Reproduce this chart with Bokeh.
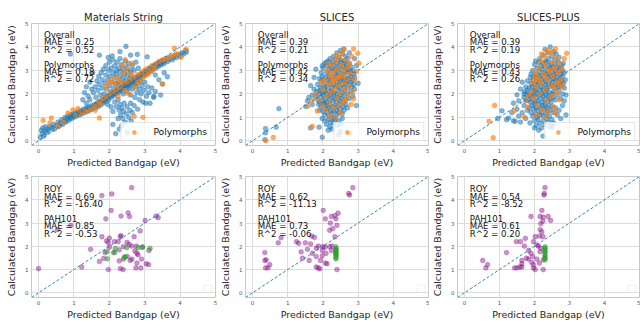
from bokeh.plotting import figure
from bokeh.layouts import column, row
from bokeh.models import (Range1d, FixedTicker, Label, Slope, Legend, LegendItem,
                          BoxAnnotation, Title)
from bokeh.embed import file_html
from bokeh.resources import INLINE

# ---------------------------------------------------------------- data
tick_vals = [0, 1, 2, 3, 4, 5]
titles = ["Materials String", "SLICES", "SLICES-PLUS"]

ms_all = [
    (0.05,0.15),(0.08,0.45),(0.1,0.3),(0.12,0.55),(0.15,0.2),(0.18,0.4),(0.2,0.6),(0.22,0.35),(0.25,0.5),(0.3,0.45),
    (0.33,0.62),(0.38,0.55),(0.42,0.7),(0.45,0.5),(0.5,0.65),(0.55,0.8),(0.58,0.62),(0.62,0.75),(0.65,0.9),(0.68,0.7),
    (0.72,0.85),(0.75,1.0),(0.78,0.8),(0.8,0.95),(0.83,1.05),(0.86,0.88),(0.88,1.0),(0.9,1.12),(0.93,0.95),(0.95,1.05),
    (0.98,1.15),(1.0,1.0),(1.02,1.1),(1.05,1.2),(1.07,1.05),(1.1,1.15),(1.12,1.25),(1.15,1.1),(1.18,1.2),(1.2,1.3),
    (1.22,1.15),(1.25,1.25),(1.28,1.35),(1.3,1.2),(1.33,1.3),(1.35,1.4),(1.38,1.25),(1.4,1.35),(1.42,1.45),(1.45,1.3),
    (1.48,1.42),(1.5,1.5),(1.52,1.35),(1.55,1.45),(1.58,1.55),(1.6,1.4),(1.63,1.5),(1.65,1.6),(1.68,1.45),(1.7,1.58),
    (1.72,1.68),(1.75,1.52),(1.78,1.65),(1.8,1.75),(1.82,1.6),(1.85,1.72),(1.88,1.82),(1.9,1.68),(1.93,1.8),(1.95,1.9),
    (1.98,1.75),(2.0,1.88),(2.03,1.98),(2.05,1.85),(2.08,1.95),(2.1,2.05),(2.13,1.92),(2.15,2.02),(2.18,2.12),(2.2,2.0),
    (2.23,2.1),(2.25,2.2),(2.28,2.08),(2.3,2.18),(2.33,2.28),(2.35,2.15),(2.38,2.25),(2.4,2.35),(2.43,2.22),(2.45,2.32),
    (2.48,2.42),(2.5,2.3),(2.53,2.4),(2.55,2.5),(2.58,2.38),(2.6,2.48),(2.63,2.58),(2.65,2.45),(2.68,2.55),(2.7,2.65),
    (2.73,2.52),(2.75,2.62),(2.78,2.72),(2.8,2.6),(2.83,2.7),(2.85,2.8),(2.88,2.68),(2.9,2.78),(2.93,2.88),(2.95,2.75),
    (2.98,2.85),(3.0,2.95),(3.03,2.82),(3.05,2.92),(3.08,3.02),(3.1,2.9),(3.13,3.0),(3.15,3.1),(3.18,2.98),(3.2,3.08),
    (3.23,3.18),(3.25,3.05),(3.28,3.15),(3.3,3.25),(3.33,3.12),(3.35,3.22),(3.38,3.32),(3.4,3.18),(3.43,3.28),(3.45,3.38),
    (3.48,3.25),(3.5,3.35),(3.55,3.3),(3.58,3.42),(3.6,3.5),(3.65,3.38),(3.7,3.48),(3.72,3.58),(3.78,3.45),(3.82,3.55),
    (3.85,3.65),(3.9,3.55),(3.95,3.68),(4.0,3.6),(4.05,3.75),(4.1,3.7),(4.15,3.85),(4.18,3.78),
    (1.55,2.05),(1.6,2.3),(1.62,1.85),(1.65,2.55),(1.68,2.15),(1.7,2.75),(1.72,2.4),(1.75,1.95),(1.77,2.9),(1.8,2.25),
    (1.8,2.6),(1.83,3.05),(1.85,2.0),(1.87,2.45),(1.9,2.8),(1.9,3.2),(1.92,2.2),(1.95,2.6),(1.97,3.0),(2.0,2.35),
    (2.0,3.35),(2.02,2.75),(2.05,2.1),(2.05,3.1),(2.08,2.5),(2.1,2.9),(2.1,3.45),(2.12,2.25),(2.15,2.7),(2.15,3.2),
    (2.18,2.45),(2.2,3.0),(2.2,2.85),(2.22,3.35),(2.25,2.55),(2.25,2.35),(2.27,3.1),(2.3,2.75),(2.3,3.5),(2.32,2.95),
    (2.35,2.45),(2.35,3.25),(2.38,2.65),(2.4,3.05),(2.4,2.0),(2.42,2.85),(2.45,3.4),(2.45,2.55),(2.48,3.15),(2.5,2.75),
    (2.5,2.1),(2.52,2.95),(2.55,3.3),(2.55,2.25),(2.58,2.65),(2.6,3.0),(2.6,1.95),(2.62,2.8),(2.65,3.2),(2.65,2.2),
    (2.68,2.4),(2.7,3.0),(2.72,1.85),(2.75,2.3),(2.75,3.35),(2.78,2.05),(2.8,2.45),(2.82,3.1),(2.85,2.2),(2.85,1.75),
    (2.88,2.55),(2.9,2.0),(2.92,2.35),(2.95,1.65),(2.98,2.15),(3.0,2.5),(3.05,1.9),(3.08,2.3),(3.12,2.05),(3.15,1.6),
    (3.2,2.25),(3.25,1.85),(3.3,2.1),
    (2.15,1.65),(2.2,1.45),(2.25,1.75),(2.28,1.3),(2.3,1.55),(2.32,1.1),(2.35,1.4),(2.38,0.95),(2.4,1.25),(2.42,1.6),
    (2.45,0.8),(2.48,1.15),(2.5,1.45),(2.55,1.0),(2.58,1.3),(2.6,1.6),(2.65,1.2),(2.7,1.5),(2.05,1.45),(2.1,1.25),
    (1.95,1.55),(2.25,0.95),(2.35,0.65),(2.28,0.5),(2.18,0.3),(2.5,0.35),(2.1,0.7),(2.62,0.85),(2.8,1.35),
    (1.3,2.05),(1.35,2.3),(1.4,1.9),(1.45,2.5),(1.5,2.2),(1.25,1.75),(1.35,1.6),(1.45,1.75),(1.53,2.9),
    (0.9,3.7),(1.72,3.65),(1.97,3.55),(2.08,3.62),(2.47,4.02),(2.3,3.8),(2.6,3.65),(2.79,3.68),(3.07,3.58),(3.5,2.42),
    (3.64,2.73),(3.26,1.89),(3.03,1.6),(3.4,2.6),(3.55,2.9),(3.3,2.8),(3.45,1.95),
]
ms_poly = [
    (0.13,0.87),(0.36,0.97),(0.32,0.76),(0.55,0.6),(0.7,0.78),(0.83,1.18),(0.97,1.32),(1.05,1.08),(1.11,1.37),
    (1.2,1.15),(1.3,1.25),(1.4,1.3),(1.5,1.42),(1.6,1.48),
    (1.72,0.97),(1.7,1.65),(1.8,1.78),(1.9,1.88),(2.0,2.0),
    (2.1,2.1),(2.2,2.2),(2.3,2.3),(2.4,2.45),(2.5,2.52),
    (2.6,2.62),(2.7,2.72),(2.8,2.82),(2.9,2.92),(3.0,3.02),
    (3.1,3.1),(3.2,3.2),(3.3,3.28),(3.4,3.38),(3.5,3.45),
    (3.6,3.5),(3.7,3.55),(3.8,3.62),(3.84,3.94),(3.9,3.7),(4.03,3.56),(4.17,3.9),(2.7,1.05),(2.95,1.0),(3.5,2.42),
    (3.29,3.1),(2.2,2.7),(2.3,2.55),(2.4,2.9),(2.5,3.1),(2.6,2.85),(2.35,3.2),(2.15,2.45),(2.05,2.6),(2.7,2.3),
    (2.8,2.5),(2.9,2.6),(3.0,2.75),(1.9,2.3),(1.75,1.55),(2.45,2.15),(2.55,2.0),(2.25,1.9),(3.1,2.85),(3.2,2.95),
    (2.65,3.3),(2.45,3.45),(2.0,2.5),(1.6,1.3),
]

sl_all = [
    (2.3,3.6),(2.4,3.75),(2.5,3.85),(2.55,3.7),(2.6,3.9),(2.45,3.55),(2.65,3.6),(2.35,3.45),(2.7,3.5),(2.2,3.5),
    (2.5,3.45),(2.75,3.75),(2.62,3.42),
    (2.0,3.1),(2.05,3.3),(2.1,2.9),(2.12,3.2),(2.15,3.4),(2.18,3.05),(2.2,2.85),(2.22,3.25),(2.25,3.1),(2.28,3.35),
    (2.3,2.95),(2.32,3.2),(2.35,3.05),(2.38,2.85),(2.4,3.3),(2.42,3.1),(2.45,2.9),(2.48,3.25),(2.5,3.05),(2.52,3.35),
    (2.55,2.85),(2.58,3.15),(2.6,3.3),(2.62,2.95),(2.65,3.1),(2.68,3.25),(2.7,2.9),(2.72,3.05),(2.75,3.3),(2.78,2.95),
    (2.8,3.15),(2.85,3.0),(1.95,2.9),(1.98,3.2),(2.88,2.85),(2.1,3.35),
    (1.85,2.4),(1.9,2.65),(1.92,2.25),(1.95,2.55),(1.98,2.75),(2.0,2.35),(2.02,2.6),(2.05,2.25),(2.08,2.7),(2.1,2.45),
    (2.12,2.3),(2.15,2.6),(2.18,2.75),(2.2,2.4),(2.22,2.55),(2.25,2.25),(2.28,2.7),(2.3,2.45),(2.32,2.6),(2.35,2.3),
    (2.38,2.75),(2.4,2.5),(2.42,2.35),(2.45,2.65),(2.48,2.25),(2.5,2.55),(2.52,2.75),(2.55,2.4),(2.58,2.6),(2.6,2.3),
    (2.62,2.7),(2.65,2.45),(2.68,2.55),(2.7,2.25),(2.72,2.65),(2.75,2.4),(2.78,2.75),(2.8,2.5),(2.82,2.3),(2.85,2.6),
    (2.88,2.4),(2.9,2.7),
    (1.8,1.9),(1.82,2.1),(1.85,1.75),(1.88,2.0),(1.9,1.65),(1.92,2.15),(1.95,1.85),(1.98,2.05),(2.0,1.7),(2.02,1.95),
    (2.05,2.15),(2.08,1.8),(2.1,2.0),(2.12,1.65),(2.15,1.9),(2.18,2.1),(2.2,1.75),(2.22,1.95),(2.25,2.1),(2.28,1.7),
    (2.3,1.9),(2.32,2.05),(2.35,1.8),(2.38,1.65),(2.4,2.0),(2.42,1.85),(2.45,2.15),(2.48,1.7),(2.5,1.95),(2.52,1.8),
    (2.55,2.05),(2.58,1.65),(2.6,1.9),(2.62,2.15),(2.65,1.75),(2.7,2.0),(2.75,1.8),(2.8,2.1),(2.85,1.9),(1.75,2.2),
    (1.7,1.95),(2.9,2.2),
    (1.95,1.45),(2.0,1.25),(2.02,1.55),(2.05,1.1),(2.08,1.35),(2.1,1.5),(2.12,1.2),(2.15,1.4),(2.18,1.05),(2.2,1.55),
    (2.22,1.3),(2.25,1.15),(2.28,1.45),(2.3,1.25),(2.32,1.0),(2.35,1.5),(2.38,1.3),(2.4,1.1),(2.42,1.45),(2.45,1.2),
    (2.48,1.55),(2.5,1.35),(2.55,1.15),(2.58,1.45),(2.6,1.3),(2.65,1.55),(2.7,1.4),(1.9,1.3),(1.88,1.55),(2.05,1.6),
    (2.05,0.85),(2.1,0.7),(2.15,0.9),(2.2,0.6),(2.22,0.8),(2.25,0.5),(2.3,0.75),(2.35,0.9),(2.4,0.65),(2.45,0.85),
    (2.5,0.7),(2.28,0.95),(2.15,0.45),(2.55,0.95),(1.98,0.95),
    (0.75,1.37),(0.37,0.52),(0.37,0.34),(0.67,0.58),(0.35,0.05),(1.98,0.15),(1.65,0.55),(1.89,0.58),(1.56,1.7),(1.51,1.46),
    (1.6,1.85),(1.65,2.35),(1.7,1.55),(2.45,0.25),(2.95,1.5),(3.0,2.45),(2.95,3.2),(1.75,2.7),(1.8,3.05),(2.9,3.5),
    (2.5,0.4),
]
sl_poly = [
    (0.38,0.0),(0.59,0.14),(1.7,0.61),(2.76,0.35),(2.87,1.79),(1.7,1.73),(1.58,1.48),(1.84,1.27),(2.99,3.73),(2.87,3.92),
    (2.59,3.92),(3.02,3.31),
    (2.0,2.2),(2.05,2.6),(2.1,1.9),(2.12,3.0),(2.15,2.4),(2.18,1.6),(2.2,2.8),(2.22,2.05),(2.25,3.2),(2.28,2.5),
    (2.3,1.4),(2.3,2.9),(2.32,2.2),(2.35,3.4),(2.38,2.65),(2.4,1.8),(2.4,3.05),(2.42,2.35),(2.45,3.55),(2.48,2.0),
    (2.5,2.8),(2.5,1.2),(2.52,3.25),(2.55,2.45),(2.58,1.65),(2.6,3.0),(2.62,2.2),(2.65,3.45),(2.68,2.6),(2.7,1.95),
    (2.72,3.15),(2.75,2.35),(2.78,2.85),(2.8,1.55),(2.82,3.6),(2.85,2.1),(1.95,2.5),(1.9,1.75),(2.08,1.3),(2.2,1.05),
    (2.35,1.0),(2.45,1.5),(2.55,3.75),(2.38,3.65),(2.6,2.75),(2.25,2.7),(2.15,3.3),(2.45,2.7),(2.3,2.55),(2.65,1.75),
    (1.8,2.0),(2.0,1.5),(2.75,3.3),(2.9,2.6),(2.95,2.95),
]

sp_all = [
    (2.3,3.9),(2.45,4.0),(2.38,3.75),(2.55,3.8),(2.25,3.65),(2.5,3.6),(2.62,3.7),(2.15,3.5),(2.4,3.5),(2.7,3.55),
    (2.58,3.45),(2.32,3.4),
    (1.95,3.0),(2.0,3.25),(2.05,2.85),(2.08,3.1),(2.12,3.35),(2.15,2.95),(2.18,3.2),(2.2,2.8),(2.22,3.05),(2.25,3.3),
    (2.28,2.9),(2.3,3.15),(2.33,2.85),(2.35,3.35),(2.38,3.0),(2.4,3.2),(2.42,2.85),(2.45,3.1),(2.48,3.3),(2.5,2.95),
    (2.52,3.15),(2.55,2.8),(2.58,3.25),(2.6,3.0),(2.62,2.85),(2.65,3.15),(2.68,3.35),(2.7,2.95),(2.72,3.1),(2.75,2.85),
    (2.78,3.2),(2.8,3.0),(2.85,2.9),(1.9,2.85),(2.82,3.3),(2.03,3.4),
    (1.75,2.3),(1.8,2.55),(1.85,2.25),(1.88,2.7),(1.9,2.45),(1.93,2.3),(1.95,2.6),(1.98,2.75),(2.0,2.4),(2.03,2.25),
    (2.05,2.55),(2.08,2.7),(2.1,2.35),(2.13,2.5),(2.15,2.75),(2.18,2.3),(2.2,2.6),(2.23,2.45),(2.25,2.2),(2.28,2.65),
    (2.3,2.4),(2.33,2.55),(2.35,2.25),(2.38,2.7),(2.4,2.45),(2.43,2.3),(2.45,2.6),(2.48,2.75),(2.5,2.35),(2.53,2.5),
    (2.55,2.65),(2.58,2.25),(2.6,2.55),(2.63,2.4),(2.65,2.7),(2.68,2.3),(2.7,2.5),(2.73,2.65),(2.75,2.35),(2.78,2.55),
    (2.8,2.75),(2.83,2.45),(2.85,2.25),(2.88,2.6),
    (1.7,1.85),(1.72,2.1),(1.75,1.7),(1.78,1.95),(1.8,2.15),(1.83,1.75),(1.85,2.0),(1.88,1.65),(1.9,1.9),(1.93,2.1),
    (1.95,1.75),(1.98,1.95),(2.0,2.15),(2.03,1.65),(2.05,1.85),(2.08,2.05),(2.1,1.7),(2.13,1.95),(2.15,2.15),(2.18,1.8),
    (2.2,2.0),(2.23,1.65),(2.25,1.9),(2.28,2.1),(2.3,1.75),(2.33,1.95),(2.35,2.15),(2.38,1.7),(2.4,1.9),(2.43,2.05),
    (2.45,1.8),(2.48,1.65),(2.5,2.0),(2.53,1.85),(2.55,2.1),(2.6,1.75),(2.65,1.95),(2.7,2.15),(2.75,1.8),(2.8,2.0),
    (2.85,1.7),(2.9,1.95),
    (1.85,1.4),(1.9,1.2),(1.93,1.5),(1.95,1.05),(1.98,1.35),(2.0,1.55),(2.03,1.15),(2.05,1.4),(2.08,1.0),(2.1,1.3),
    (2.13,1.55),(2.15,1.1),(2.18,1.4),(2.2,1.2),(2.23,1.5),(2.25,1.05),(2.28,1.35),(2.3,1.55),(2.33,1.15),(2.35,1.4),
    (2.38,1.25),(2.4,1.5),(2.43,1.05),(2.45,1.3),(2.5,1.45),(2.55,1.2),(2.6,1.4),(2.65,1.1),(2.7,1.3),(2.8,1.5),
    (2.0,0.85),(2.05,0.65),(2.1,0.9),(2.15,0.75),(2.2,0.55),(2.25,0.85),(2.3,0.7),(2.35,0.95),(2.4,0.8),(2.45,0.6),
    (2.5,0.9),(2.12,0.45),(2.55,0.75),
    (0.95,0.95),(1.07,1.28),(1.2,0.9),(1.26,0.97),(1.35,1.2),(1.4,0.85),(1.45,0.83),(1.5,1.35),(1.55,1.05),(1.6,0.8),
    (1.65,1.2),(1.7,1.5),(1.75,0.95),(1.8,1.3),(1.5,1.96),(1.55,1.7),(1.6,2.2),(1.65,2.5),(1.7,2.0),(1.4,1.6),
    (1.87,0.76),(2.24,0.2),(2.0,0.55),(2.5,0.6),(2.75,0.95),(2.9,1.1),
]
sp_poly = [
    (0.86,1.51),(0.70,0.83),(0.82,0.13),(2.92,3.73),(2.6,3.92),(1.42,1.28),(1.7,1.02),(1.8,1.45),(1.75,1.75),
    (1.9,2.1),(1.95,2.5),(2.0,1.8),(2.02,2.9),(2.05,2.3),(2.08,1.5),(2.1,2.7),(2.12,3.1),(2.15,2.0),(2.18,3.4),
    (2.2,2.45),(2.22,1.3),(2.25,2.85),(2.28,3.6),(2.3,2.2),(2.32,3.25),(2.35,1.7),(2.38,2.6),(2.4,3.0),(2.42,3.75),
    (2.45,2.35),(2.48,1.9),(2.5,3.35),(2.52,2.75),(2.55,1.45),(2.58,3.1),(2.6,2.5),(2.62,3.55),(2.65,2.05),(2.68,2.9),
    (2.7,3.3),(2.72,1.75),(2.75,2.6),(2.78,3.05),(2.8,2.3),(2.85,3.5),(2.35,3.85),(2.2,3.7),(2.4,1.25),(2.3,1.0),
    (2.6,1.2),(2.05,1.1),(2.15,2.55),(2.45,2.95),(2.55,2.25),(2.3,2.7),(2.5,3.8),(2.7,2.4),(1.85,1.9),(2.0,2.65),
]

ms_roy = [
    (0.0,1.04),(1.79,4.18),(2.07,4.25),(2.63,4.52),(2.05,3.54),(1.90,3.18),(2.33,3.30),(2.53,3.44),(2.57,3.28),(3.01,3.11),
    (3.32,3.30),(3.38,3.23),(0.91,2.90),(0.53,2.72),(1.79,2.41),(2.0,2.35),(2.33,2.46),(2.31,2.41),(1.92,2.23),(1.97,2.15),
    (2.14,2.2),(2.25,2.2),(2.50,2.17),(2.56,2.08),(2.70,2.41),(2.76,2.01),(2.87,2.66),(1.47,1.87),(1.88,1.73),(2.0,1.96),
    (2.28,1.85),(2.40,1.99),(2.72,1.80),(2.78,1.70),(2.81,1.63),(1.72,1.35),(1.84,1.48),(2.28,1.37),(2.40,1.45),(2.59,1.39),
    (2.64,1.45),(2.51,1.56),(2.78,1.28),(2.91,1.45),(3.04,1.25),(3.11,1.21),(3.12,1.82),(1.22,1.11),(1.97,1.0),(2.31,1.04),
    (2.39,1.0),(2.75,1.07),(2.89,1.07),(2.12,1.73),(2.93,1.96),(2.63,2.01),
]
ms_pah = [(1.93,1.77),(1.94,1.46),(2.15,1.74),(2.17,1.91),(2.49,1.94),(2.45,1.56),(2.42,1.52),(2.81,1.94),(2.94,1.97),(3.15,1.91)]

sl_roy = [
    (2.85,4.52),(2.73,4.27),(2.76,4.20),(2.01,3.54),(2.24,3.28),(2.34,3.32),(2.43,3.42),(2.07,3.18),(2.37,3.18),(2.21,3.0),
    (2.40,2.90),(2.19,2.69),(2.28,2.76),(2.34,2.41),(1.68,2.44),(1.76,2.38),(0.81,2.37),(0.73,2.15),(1.25,2.2),(1.31,2.13),
    (1.50,2.15),(1.65,2.1),(1.81,1.92),(1.87,2.01),(2.0,1.99),(2.06,1.96),(2.19,1.99),(2.26,2.01),(1.56,1.87),(1.38,1.76),
    (1.70,1.70),(1.98,1.82),(2.09,1.70),(2.24,1.82),(0.35,1.73),(1.42,1.49),(1.61,1.39),(1.81,1.56),(1.93,1.39),(2.07,1.28),
    (2.12,1.25),(1.81,1.11),(1.87,1.07),(1.91,1.03),(2.40,1.0),(0.35,1.39),(0.39,1.42),(0.49,1.21),(0.37,1.07),(0.44,1.07),
    (1.98,1.59),
]
sl_pah = [(2.37,1.97),(2.37,1.9),(2.37,1.85),(2.37,1.8),(2.37,1.75),(2.37,1.7),(2.37,1.65),(2.37,1.6),(2.37,1.52),(2.37,1.46)]

sp_roy = [
    (2.30,4.52),(2.28,4.27),(2.27,4.20),(2.21,3.54),(1.90,3.28),(2.16,3.28),(2.25,3.25),(2.39,3.28),(2.46,3.11),(2.18,2.97),
    (2.24,3.08),(2.16,2.72),(2.21,2.62),(2.02,2.41),(2.14,2.44),(2.24,2.41),(1.74,2.34),(1.48,2.2),(1.60,2.2),(1.71,2.01),
    (1.97,2.2),(2.07,2.06),(2.11,2.01),(2.18,1.92),(2.16,1.77),(1.20,1.73),(1.83,1.82),(1.90,1.70),(1.95,1.56),(1.77,1.49),
    (1.64,1.39),(1.64,1.25),(1.83,1.45),(1.92,1.31),(2.07,1.45),(2.14,1.28),(2.25,1.42),(1.43,1.07),(1.50,1.07),(1.58,1.11),
    (1.64,1.11),(1.97,1.07),(2.02,1.0),(2.25,1.0),(0.52,1.39),(0.61,1.07),(0.66,1.21),(1.97,1.21),
]
sp_pah = [(2.30,1.97),(2.30,1.92),(2.30,1.85),(2.30,1.78),(2.30,1.72),(2.30,1.62),(2.30,1.55),(2.30,1.48),(2.30,1.42)]

top_stats = [
    ["Overall", "MAE = 0.25", "R^2 = 0.52", "Polymorphs", "MAE = 0.18", "R^2 = 0.72"],
    ["Overall", "MAE = 0.39", "R^2 = 0.21", "Polymorphs", "MAE = 0.42", "R^2 = 0.34"],
    ["Overall", "MAE = 0.39", "R^2 = 0.19", "Polymorphs", "MAE = 0.43", "R^2 = 0.26"],
]
bottom_stats = [
    ["ROY", "MAE = 0.69", "R^2 = -16.40", "PAH101", "MAE = 0.85", "R^2 = -0.53"],
    ["ROY", "MAE = 0.62", "R^2 = -11.13", "PAH101", "MAE = 0.73", "R^2 = -0.06"],
    ["ROY", "MAE = 0.54", "R^2 = -8.52", "PAH101", "MAE = 0.61", "R^2 = 0.20"],
]

# ---------------------------------------------------------------- styling
FONT = "DejaVu Sans"
BLUE, ORANGE = "#1f77b4", "#ff7f0e"
PURPLE, GREEN = "#800080", "#2ca02c"
TXT = "#262626"
LINE_STEPS = [0, 1, 2, 4, 5, 6]
MSIZE = 4.8

widths = [217, 212, 211]
left_b = [31, 24, 24]
right_b = [2, 1, 1]


def make_fig(col, top_row):
    h = 170 if top_row else 152
    kw = {}
    if top_row:
        kw["title"] = Title(text=titles[col], text_font=FONT, text_font_size="10px",
                            text_font_style="normal", align="center", standoff=1,
                            text_color=TXT)
    p = figure(width=widths[col], height=h,
               x_range=Range1d(-0.2, 5), y_range=Range1d(-0.2, 5),
               output_backend="svg", toolbar_location=None,
               min_border_left=left_b[col], min_border_right=right_b[col],
               min_border_top=23 if top_row else 6,
               min_border_bottom=23, **kw)
    p.outline_line_color = "#c8c8c8"
    p.grid.grid_line_color = "#dcdcdc"
    p.background_fill_color = "white"
    for ax in (p.xaxis[0], p.yaxis[0]):
        ax.ticker = FixedTicker(ticks=tick_vals)
        ax.major_label_text_font_size = "5.5px"
        ax.major_label_text_font = FONT
        ax.major_label_text_color = "#555555"
        ax.axis_label_text_font = FONT
        ax.axis_label_text_font_size = "9.5px"
        ax.axis_label_text_font_style = "normal"
        ax.axis_label_text_color = TXT
        ax.axis_line_color = None
        ax.major_tick_line_color = None
        ax.minor_tick_line_color = None
        ax.major_tick_out = 0
        ax.major_tick_in = 0
        ax.major_label_standoff = 2
        ax.axis_label_standoff = 1
    p.xaxis[0].axis_label = "Predicted Bandgap (eV)"
    p.yaxis[0].axis_label = "Calculated Bandgap (eV)"
    p.yaxis[0].major_label_standoff = 3
    p.yaxis[0].axis_label_standoff = 5
    return p


def add_stats(p, lines, y_top):
    for step, txt in zip(LINE_STEPS, lines):
        p.add_layout(Label(x=0.15, y=y_top, y_offset=-step * 7.4, text=txt,
                           text_font=FONT, text_font_size="8.6px",
                           text_baseline="top", text_color="#111111"))


def add_diag(p):
    p.add_layout(Slope(gradient=1, y_intercept=0, line_color=BLUE,
                       line_dash="3 2", line_width=1, line_alpha=0.9))


def dots(p, pts, color, alpha):
    xs, ys = zip(*pts)
    return p.scatter(list(xs), list(ys), size=MSIZE, fill_color=color, line_color=color,
                     fill_alpha=alpha, line_alpha=alpha, line_width=0.6)


top_sets = [(ms_all, ms_poly), (sl_all, sl_poly), (sp_all, sp_poly)]
bottom_sets = [(ms_roy, ms_pah), (sl_roy, sl_pah), (sp_roy, sp_pah)]

top_figs, bottom_figs = [], []
for c, (allp, poly) in enumerate(top_sets):
    p = make_fig(c, True)
    dots(p, allp, BLUE, 0.55)
    r_poly = dots(p, poly, ORANGE, 0.65)
    add_diag(p)
    add_stats(p, top_stats[c], 4.72)
    leg = Legend(items=[LegendItem(label="Polymorphs", renderers=[r_poly])],
                 location="bottom_right", label_text_font=FONT,
                 label_text_font_size="9.2px", label_text_color="#111111",
                 padding=3, spacing=0, margin=4, glyph_width=19, glyph_height=10,
                 label_height=10, label_standoff=10,
                 border_line_color="#cccccc", background_fill_alpha=0.8)
    p.add_layout(leg)
    top_figs.append(p)

for c, (roy, pah) in enumerate(bottom_sets):
    p = make_fig(c, False)
    dots(p, roy, PURPLE, 0.42)
    dots(p, pah, GREEN, 0.6)
    add_diag(p)
    add_stats(p, bottom_stats[c], 4.66)
    p.add_layout(BoxAnnotation(left=4.68, right=4.89, bottom=0.03, top=0.33,
                               fill_color="white", fill_alpha=0.8,
                               line_color="#cccccc", line_width=1))
    bottom_figs.append(p)

layout = column(row(*top_figs, spacing=0), row(*bottom_figs, spacing=0), spacing=0)

with open("out.html", "w") as f:
    f.write(file_html(layout, INLINE))
